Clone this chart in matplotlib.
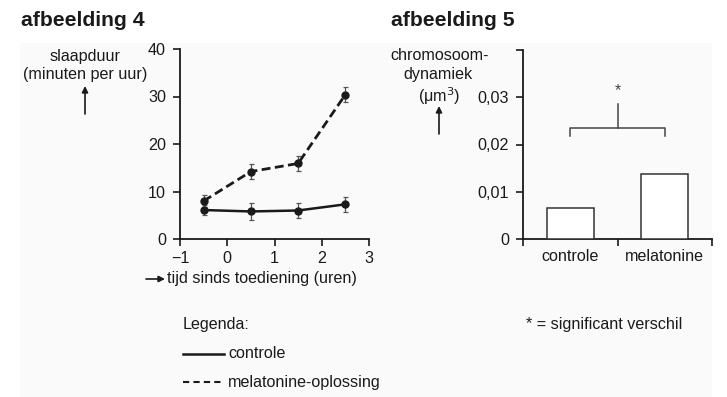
import matplotlib
matplotlib.use("Agg")
import matplotlib.pyplot as plt
from matplotlib.patches import Rectangle, FancyArrowPatch
from matplotlib.lines import Line2D
from matplotlib.ticker import FuncFormatter

plt.rcParams['font.family'] = ['Liberation Sans', 'DejaVu Sans']

# ---- data: afbeelding 4 ----
time_h = [-0.5, 0.5, 1.5, 2.5]
controle = [6.1, 5.8, 6.0, 7.3]
controle_err = [1.1, 1.7, 1.6, 1.6]
melatonine = [8.0, 14.2, 15.9, 30.4]
melatonine_err = [1.3, 1.6, 1.6, 1.6]
x_ticks4 = [-1, 0, 1, 2, 3]
y_ticks4 = [0, 10, 20, 30, 40]

# ---- data: afbeelding 5 ----
groups = ['controle', 'melatonine']
chrom_dyn = [0.0066, 0.0137]
y_ticks5 = [0, 0.01, 0.02, 0.03, 0.04]

W, H = 727, 397
fig = plt.figure(figsize=(W / 100, H / 100), dpi=100)

def fx(px):
    return px / W

def fy(py):
    return 1 - py / H

INK = '#1a1a1a'
FS = 11.6

# very light background panel
fig.add_artist(Rectangle((fx(20), 0), fx(712) - fx(20), fy(43), transform=fig.transFigure,
                         facecolor='#fafafa', edgecolor='none', zorder=0))

def style_axes(ax):
    ax.set_facecolor('none')
    for s in ['top', 'right']:
        ax.spines[s].set_visible(False)
    for s in ['left', 'bottom']:
        ax.spines[s].set_linewidth(1.3)
        ax.spines[s].set_color(INK)
    ax.tick_params(direction='out', length=5, width=1.2, color=INK,
                   labelsize=FS, labelcolor=INK)
    ax.tick_params(axis='y', pad=5)
    ax.tick_params(axis='x', pad=3.5)

# ---------- afbeelding 4 ----------
ax1 = fig.add_axes([fx(180), fy(239), fx(369) - fx(180), fy(49) - fy(239)])
style_axes(ax1)
ax1.errorbar(time_h, controle, yerr=controle_err, color=INK, lw=1.8, marker='o', ms=5,
             ecolor='#555555', elinewidth=0.9, capsize=1.8, capthick=0.9, zorder=3)
ax1.errorbar(time_h, melatonine, yerr=melatonine_err, color=INK, lw=2.0, ls=(0, (3.2, 1.6)),
             marker='o', ms=5, ecolor='#555555', elinewidth=0.9, capsize=1.8, capthick=0.9, zorder=3)
ax1.set_xlim(-1, 3)
ax1.set_ylim(0, 40)
ax1.set_xticks(x_ticks4)
ax1.set_xticklabels(['\u22121' if t < 0 else str(t) for t in x_ticks4])
ax1.set_yticks(y_ticks4)

# ---------- afbeelding 5 ----------
ax2 = fig.add_axes([fx(523), fy(239), fx(712) - fx(523), fy(50) - fy(239)])
style_axes(ax2)
xpos = list(range(len(groups)))
ax2.bar(xpos, chrom_dyn, width=0.5, facecolor='white', edgecolor='#333333', lw=1.1, zorder=3)
ax2.set_xlim(-0.5, 1.5)
ax2.set_ylim(0, 0.04)
ax2.set_xticks([-0.5, 0.5, 1.5])
ax2.set_xticklabels([])
ax2.set_xticks(xpos, minor=True)
ax2.set_xticklabels(groups, minor=True)
ax2.tick_params(axis='x', which='minor', length=0, pad=7, labelsize=FS, labelcolor=INK)
ax2.set_yticks(y_ticks5)
ax2.yaxis.set_major_formatter(FuncFormatter(
    lambda v, p: '' if v > 0.035 else ('0' if v == 0 else f'{v:.2f}'.replace('.', ','))))

# significance bracket
yb, yl, yt = 0.0235, 0.0217, 0.0285
ax2.plot([xpos[0], xpos[0], xpos[1], xpos[1]], [yl, yb, yb, yl], color='#444444', lw=1.1)
ax2.plot([0.5, 0.5], [yb, yt], color='#444444', lw=1.1)
ax2.text(0.5, 0.0298, '*', ha='center', va='bottom', fontsize=FS, color='#444444')

# ---------- texts ----------
fig.text(fx(21), fy(21), 'afbeelding 4', fontsize=15.2, fontweight='bold', color=INK, va='center', ha='left')
fig.text(fx(391), fy(21), 'afbeelding 5', fontsize=15.2, fontweight='bold', color=INK, va='center', ha='left')

fig.text(fx(85), fy(56), 'slaapduur', fontsize=FS, color=INK, ha='center', va='center')
fig.text(fx(85), fy(74), '(minuten per uur)', fontsize=FS, color=INK, ha='center', va='center')
fig.text(fx(440), fy(56), 'chromosoom-', fontsize=FS, color=INK, ha='center', va='center')
fig.text(fx(438), fy(74), 'dynamiek', fontsize=FS, color=INK, ha='center', va='center')
fig.text(fx(439), fy(96), '(\u03bcm$^{3}$)', fontsize=FS, color=INK, ha='center', va='center')

arrow_kw = dict(arrowstyle='-|>', lw=1.2, color=INK, mutation_scale=9, shrinkA=0, shrinkB=0)
fig.add_artist(FancyArrowPatch((fx(85), fy(114)), (fx(85), fy(86)),
                               transform=fig.transFigure, **arrow_kw))
fig.add_artist(FancyArrowPatch((fx(439), fy(134)), (fx(439), fy(106)),
                               transform=fig.transFigure, **arrow_kw))
fig.add_artist(FancyArrowPatch((fx(146), fy(279)), (fx(165), fy(279)),
                               transform=fig.transFigure, **arrow_kw))
fig.text(fx(167), fy(279), 'tijd sinds toediening (uren)', fontsize=FS, color=INK, ha='left', va='center')

# legend
fig.text(fx(183), fy(325), 'Legenda:', fontsize=FS, color=INK, ha='left', va='center')
fig.add_artist(Line2D([fx(183), fx(224)], [fy(354), fy(354)], color=INK, lw=1.8,
                      transform=fig.transFigure))
fig.text(fx(228), fy(354), 'controle', fontsize=FS, color=INK, ha='left', va='center')
fig.add_artist(Line2D([fx(183), fx(224)], [fy(382), fy(382)], color=INK, lw=1.5,
                      ls=(0, (3, 2)), transform=fig.transFigure))
fig.text(fx(228), fy(382), 'melatonine-oplossing', fontsize=FS, color=INK, ha='left', va='center')
fig.text(fx(526), fy(325), '* = significant verschil', fontsize=FS, color=INK, ha='left', va='center')

fig.savefig('out.png', dpi=100, facecolor='white')
